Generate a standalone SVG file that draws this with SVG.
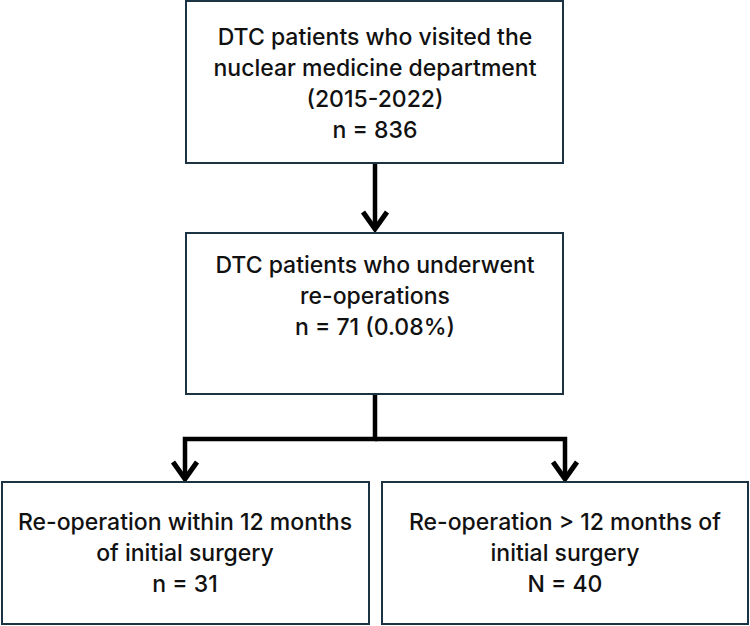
<svg xmlns="http://www.w3.org/2000/svg" width="750" height="626" viewBox="0 0 750 626">
  <style>
    .box { fill: #ffffff; stroke: #1c3344; stroke-width: 2; }
    .label { font-family: Inter, "Open Sans", "Liberation Sans", Arial, sans-serif; font-size: 23px; font-weight: 500; fill: #111; text-anchor: middle; }
    .link { fill: none; stroke: #000; stroke-width: 4.5; }
    .head { fill: none; stroke: #000; stroke-width: 5; }
  </style>
  <rect width="750" height="626" fill="#ffffff"/>

  <g id="connectors">
    <path class="link" d="M375,164 V229" />
    <path class="head" d="M363,212 L375,229 L387,212" />
    <path class="link" d="M375,394 V439 H185 V478" />
    <path class="head" d="M173,462 L185,479 L197,462" />
    <path class="link" d="M375,439 H565 V478" />
    <path class="head" d="M553,462 L565,479 L577,462" />
  </g>

  <g id="node-visited">
    <rect class="box" x="186" y="1" width="377" height="162"/>
    <text class="label" x="375" y="45">DTC patients who visited the</text>
    <text class="label" x="375" y="76">nuclear medicine department</text>
    <text class="label" x="375" y="107">(2015-2022)</text>
    <text class="label" x="375" y="138">n = 836</text>
  </g>

  <g id="node-reoperated">
    <rect class="box" x="186" y="233" width="377" height="161"/>
    <text class="label" x="375" y="273">DTC patients who underwent</text>
    <text class="label" x="375" y="304">re-operations</text>
    <text class="label" x="375" y="335">n = 71 (0.08%)</text>
  </g>

  <g id="node-within-12">
    <rect class="box" x="2" y="482" width="367" height="142"/>
    <text class="label" x="185" y="530">Re-operation within 12 months</text>
    <text class="label" x="185" y="561">of initial surgery</text>
    <text class="label" x="185" y="592">n = 31</text>
  </g>

  <g id="node-after-12">
    <rect class="box" x="382" y="482" width="366" height="142"/>
    <text class="label" x="565" y="530">Re-operation &gt; 12 months of</text>
    <text class="label" x="565" y="561">initial surgery</text>
    <text class="label" x="565" y="592">N = 40</text>
  </g>
</svg>
